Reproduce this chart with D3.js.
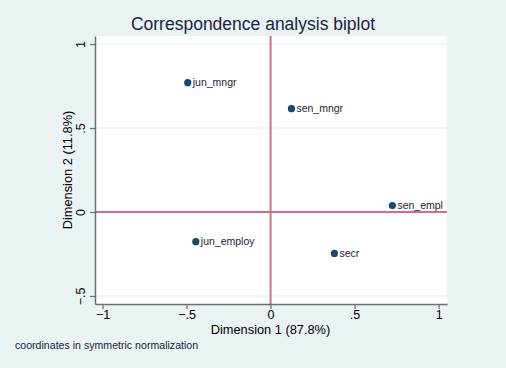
<!DOCTYPE html>
<html>
<head>
<meta charset="utf-8">
<script src="https://cdn.jsdelivr.net/npm/d3@7"></script>
<style>
  body { margin: 0; background: #eaf2f3; }
  svg { display: block; font-family: "Liberation Sans", Arial, sans-serif; }
</style>
</head>
<body>
<svg id="chart"></svg>
<script>
// points of the biplot
const labels = ["jun_mngr", "sen_mngr", "sen_empl", "jun_employ", "secr"];
const dim1 = [-0.493, 0.124, 0.725, -0.445, 0.380];
const dim2 = [0.770, 0.615, 0.038, -0.177, -0.247];

const xTicks = [-1, -0.5, 0, 0.5, 1];
const yTicks = [-0.5, 0, 0.5, 1];
const tickLabel = d => d === 0 ? "0" : d3.format("")(d).replace("0.", ".");

const width = 506, height = 368;
const svg = d3.select("#chart").attr("width", width).attr("height", height);

svg.append("rect").attr("width", width).attr("height", height).attr("fill", "#eaf2f3");

const x = d3.scaleLinear().domain([-1.045, 1.05]).range([95, 447]);
const y = d3.scaleLinear().domain([-0.548, 1.048]).range([304, 36]);

// plot region
svg.append("rect")
  .attr("x", x(-1.045)).attr("y", y(1.048))
  .attr("width", x(1.05) - x(-1.045)).attr("height", y(-0.548) - y(1.048))
  .attr("fill", "#fff");

// grid lines
svg.selectAll(".grid")
  .data(yTicks.filter(d => d !== 0))
  .enter().append("line")
  .attr("x1", x(-1.045)).attr("x2", x(1.05))
  .attr("y1", d => y(d)).attr("y2", d => y(d))
  .attr("stroke", "#eaf2f3").attr("stroke-width", 1.5);

// reference lines at 0
svg.append("line")
  .attr("x1", x(0)).attr("x2", x(0)).attr("y1", y(1.048)).attr("y2", y(-0.548))
  .attr("stroke", "#d46a84").attr("stroke-width", 2);
svg.append("line")
  .attr("x1", x(-1.045)).attr("x2", x(1.05)).attr("y1", y(0)).attr("y2", y(0))
  .attr("stroke", "#d46a84").attr("stroke-width", 2);

// axes
const xAxis = svg.append("g")
  .attr("transform", `translate(0,${y(-0.548)})`)
  .call(d3.axisBottom(x).tickValues(xTicks).tickFormat(tickLabel).tickSize(5).tickSizeOuter(0).tickPadding(1));
xAxis.select(".domain").attr("stroke", "#6e6e6e").attr("stroke-width", 1.5);
xAxis.selectAll(".tick line").attr("stroke", "#6e6e6e").attr("stroke-width", 1.2);
xAxis.selectAll("text").attr("font-size", 12.5).attr("fill", "#000")
  .attr("font-family", "Liberation Sans, Arial, sans-serif");

const yAxis = svg.append("g")
  .attr("transform", `translate(${x(-1.045)},0)`)
  .call(d3.axisLeft(y).tickValues(yTicks).tickFormat(tickLabel).tickSize(5).tickSizeOuter(0));
yAxis.select(".domain").attr("stroke", "#6e6e6e").attr("stroke-width", 1.5);
yAxis.selectAll(".tick line").attr("stroke", "#6e6e6e").attr("stroke-width", 1.2);
yAxis.selectAll("text")
  .attr("font-size", 12.5).attr("fill", "#000")
  .attr("font-family", "Liberation Sans, Arial, sans-serif")
  .attr("x", null).attr("dy", null)
  .attr("text-anchor", "middle")
  .attr("transform", "translate(-10,0) rotate(-90)");

// points
const pts = svg.selectAll(".pt")
  .data(labels.map((l, i) => ({ label: l, d1: dim1[i], d2: dim2[i] })))
  .enter().append("g");
pts.append("circle")
  .attr("cx", d => x(d.d1)).attr("cy", d => y(d.d2))
  .attr("r", 3.6).attr("fill", "#1a476f");
pts.append("text")
  .attr("x", d => x(d.d1) + 5).attr("y", d => y(d.d2) + 3.5)
  .attr("font-size", 10.5).attr("fill", "#1c2434")
  .text(d => d.label);

// titles
svg.append("text")
  .attr("x", 253).attr("y", 30).attr("text-anchor", "middle")
  .attr("font-size", 17.5).attr("fill", "#1c2340")
  .text("Correspondence analysis biplot");
svg.append("text")
  .attr("x", 270.5).attr("y", 334).attr("text-anchor", "middle")
  .attr("font-size", 12.8).attr("fill", "#000")
  .text("Dimension 1 (87.8%)");
svg.append("text")
  .attr("transform", "translate(72,170) rotate(-90)").attr("text-anchor", "middle")
  .attr("font-size", 12.8).attr("fill", "#000")
  .text("Dimension 2 (11.8%)");
svg.append("text")
  .attr("x", 15).attr("y", 349)
  .attr("font-size", 10.6).attr("fill", "#1c2434")
  .text("coordinates in symmetric normalization");
</script>
</body>
</html>
